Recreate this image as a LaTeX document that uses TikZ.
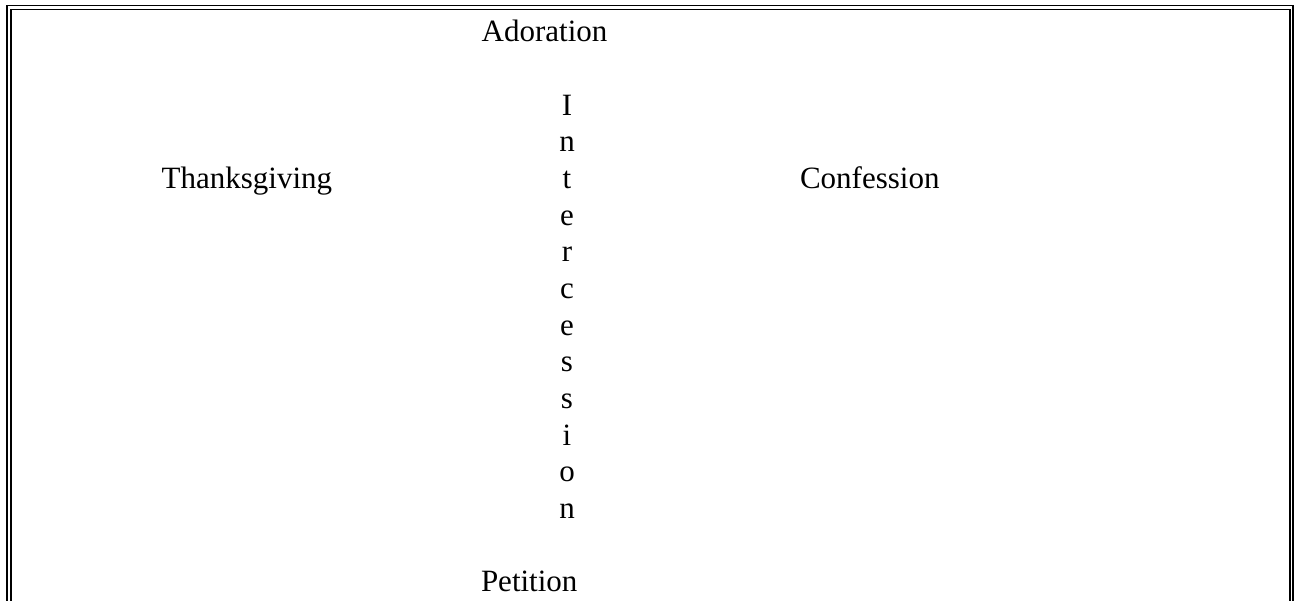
\documentclass[tikz,border=0pt]{standalone}
\usepackage{fontspec}
\setmainfont{Liberation Serif}
\begin{document}
\begin{tikzpicture}[x=1pt,y=-1pt,
  lbl/.style={inner sep=0pt,outer sep=0pt,font=\fontsize{31}{37}\selectfont},
  rule/.style={line width=1.8pt,line cap=butt,line join=miter}]
\clip (0,0) rectangle (1297,600);
\fill[white] (0,0) rectangle (1297,600);
% double border (bottom edge lies outside the picture)
\draw[rule] (6.8,610) -- (6.8,5.5) -- (1293.2,5.5) -- (1293.2,610);
\draw[rule] (10.8,610) -- (10.8,9.5) -- (1289.6,9.5) -- (1289.6,610);
% texts
\node[lbl,anchor=base west] (ado) at (481.7,41.7) {Adoration};
\node[lbl,anchor=base west] (tha) at (161.7,188.3) {Thanksgiving};
\node[lbl,anchor=base west] (con) at (800,188.3) {Confession};
\node[lbl,anchor=base west] (pet) at (481,591.7) {Petition};
\foreach \ch [count=\i from 0] in {I,n,t,e,r,c,e,s,s,i,o,n}{
  \node[lbl,anchor=base] (int\i) at (567,115+36.67*\i) {\ch};
}
\end{tikzpicture}
\end{document}
